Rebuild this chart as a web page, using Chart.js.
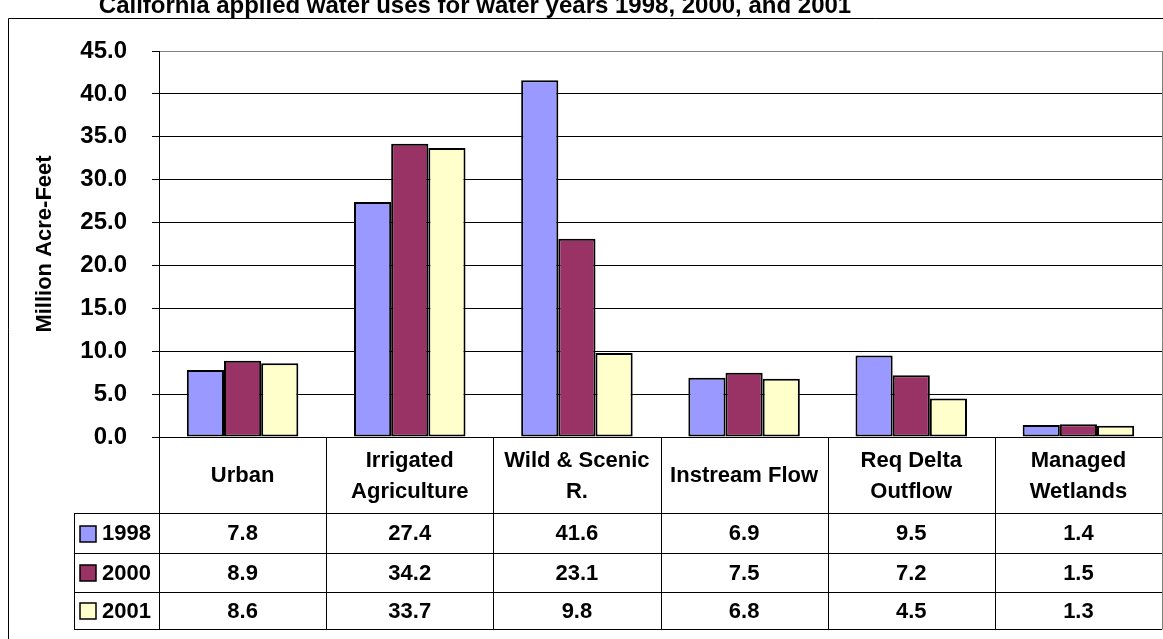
<!DOCTYPE html>
<html>
<head>
<meta charset="utf-8">
<script src="https://cdn.jsdelivr.net/npm/chart.js@4/dist/chart.umd.min.js"></script>
<style>
  html, body { margin: 0; padding: 0; background: #ffffff; }
  #wrap { position: relative; width: 1163px; height: 639px; overflow: hidden; }
  canvas { display: block; }
</style>
</head>
<body>
<div id="wrap"><canvas id="chart" width="1163" height="639"></canvas></div>
<script>
// Applied water uses, million acre-feet, by category and water year
const chartTitle = 'California applied water uses for water years 1998, 2000, and 2001';
const axisTitle = 'Million Acre-Feet';
const categories = [
  ['Urban'],
  ['Irrigated', 'Agriculture'],
  ['Wild & Scenic', 'R.'],
  ['Instream Flow'],
  ['Req Delta', 'Outflow'],
  ['Managed', 'Wetlands']
];
const years = ['1998', '2000', '2001'];
const values1998 = [7.8, 27.4, 41.6, 6.9, 9.5, 1.4];
const values2000 = [8.9, 34.2, 23.1, 7.5, 7.2, 1.5];
const values2001 = [8.6, 33.7, 9.8, 6.8, 4.5, 1.3];
const seriesColors = ['#9999FF', '#993366', '#FFFFCC'];
const yMin = 0, yMax = 45, yStep = 5;

const FONT = '"Liberation Sans", Arial, Helvetica, sans-serif';

// Layout of the frame and the data table under the plot
const frame = { left: 8, top: 18 };
const plotTop = 51;
const plotBottom = 437;
const tableRows = [513, 553, 592, 629];   // bottom edge of header row and each series row
const legendLeft = 74;

const seriesValues = [values1998, values2000, values2001];

const frameAndTable = {
  id: 'frameAndTable',
  beforeDraw(chart) {
    const { ctx } = chart;
    ctx.save();
    ctx.fillStyle = '#ffffff';
    ctx.fillRect(0, 0, chart.width, chart.height);
    ctx.restore();
  },
  afterDraw(chart) {
    const { ctx, chartArea: a } = chart;
    const xs = chart.scales.x;
    const colW = (a.right - a.left) / categories.length;
    ctx.save();

    // outer frame
    ctx.strokeStyle = '#000000';
    ctx.lineWidth = 1;
    ctx.beginPath();
    ctx.moveTo(frame.left + 0.5, chart.height + 5);
    ctx.lineTo(frame.left + 0.5, frame.top + 0.5);
    ctx.lineTo(chart.width + 5, frame.top + 0.5);
    ctx.stroke();

    // title, running above the frame
    ctx.fillStyle = '#000000';
    ctx.font = 'bold 24px ' + FONT;
    ctx.textAlign = 'center';
    ctx.textBaseline = 'alphabetic';
    ctx.fillText(chartTitle, 475, 13);

    // plot area border on the right
    ctx.strokeStyle = '#808080';
    ctx.beginPath();
    ctx.moveTo(a.right + 0.5, a.top);
    ctx.lineTo(a.right + 0.5, tableRows[3] + 0.5);
    ctx.stroke();

    // table grid
    ctx.strokeStyle = '#000000';
    ctx.lineWidth = 1;
    ctx.beginPath();
    for (let r = 0; r < tableRows.length; r++) {
      ctx.moveTo(legendLeft, tableRows[r] + 0.5);
      ctx.lineTo(a.right, tableRows[r] + 0.5);
    }
    ctx.moveTo(legendLeft + 0.5, tableRows[0]);
    ctx.lineTo(legendLeft + 0.5, tableRows[3] + 1);
    for (let i = 0; i < categories.length; i++) {
      const x = Math.round(xs.getPixelForValue(i) - colW / 2) + 0.5;
      ctx.moveTo(x, a.bottom);
      ctx.lineTo(x, tableRows[3] + 1);
    }
    ctx.stroke();

    // category headers
    ctx.fillStyle = '#000000';
    ctx.font = 'bold 22px ' + FONT;
    ctx.textAlign = 'center';
    ctx.textBaseline = 'middle';
    const headMid = (a.bottom + tableRows[0]) / 2 + 1;
    const lineGap = 31;
    categories.forEach((lines, i) => {
      const cx = xs.getPixelForValue(i);
      const y0 = headMid - (lines.length - 1) * lineGap / 2;
      lines.forEach((t, k) => ctx.fillText(t, cx, y0 + k * lineGap));
    });

    // series rows: legend key, year, values
    years.forEach((yr, s) => {
      const top = tableRows[s];
      const bot = tableRows[s + 1];
      const mid = (top + bot) / 2 + 1;
      ctx.fillStyle = seriesColors[s];
      ctx.fillRect(80, Math.round(mid - 8.5), 16, 16);
      ctx.strokeStyle = '#000000';
      ctx.lineWidth = 1.5;
      ctx.strokeRect(80, Math.round(mid - 8.5), 16, 16);
      ctx.fillStyle = '#000000';
      ctx.textAlign = 'left';
      ctx.fillText(yr, 102, mid);
      ctx.textAlign = 'center';
      seriesValues[s].forEach((v, i) => {
        ctx.fillText(v.toFixed(1), xs.getPixelForValue(i), mid);
      });
    });

    ctx.restore();
  }
};

new Chart(document.getElementById('chart'), {
  type: 'bar',
  data: {
    labels: categories.map(c => c.join(' ')),
    datasets: years.map((yr, s) => ({
      label: yr,
      data: seriesValues[s],
      backgroundColor: seriesColors[s],
      borderColor: '#000000',
      borderWidth: 2,
      borderSkipped: false,
      categoryPercentage: 0.667,
      barPercentage: 1.0
    }))
  },
  options: {
    responsive: false,
    animation: false,
    devicePixelRatio: 1,
    layout: { padding: { left: 0, right: 1, top: plotTop, bottom: 0 } },
    plugins: {
      legend: { display: false },
      title: { display: false },
      tooltip: { enabled: false }
    },
    scales: {
      x: {
        grid: { display: false },
        border: { display: true, color: '#000000', width: 1 },
        ticks: { display: false },
        afterFit(scale) { scale.height = 639 - plotBottom; }
      },
      y: {
        min: yMin,
        max: yMax,
        ticks: {
          stepSize: yStep,
          color: '#000000',
          font: { family: FONT, size: 24, weight: 'bold' },
          padding: 25,
          callback: v => Number(v).toFixed(1)
        },
        grid: {
          color: ctx => (ctx.tick && ctx.tick.value === yMax) ? '#808080' : '#000000',
          lineWidth: 1,
          tickLength: 7,
          tickColor: '#000000',
          drawTicks: true
        },
        border: { display: true, color: '#000000', width: 1 },
        title: {
          display: true,
          text: axisTitle,
          color: '#000000',
          font: { family: FONT, size: 22, weight: 'bold' },
          padding: { top: 32, bottom: 0 }
        },
        afterFit(scale) { scale.width = 159; }
      }
    }
  },
  plugins: [frameAndTable]
});
</script>
</body>
</html>
